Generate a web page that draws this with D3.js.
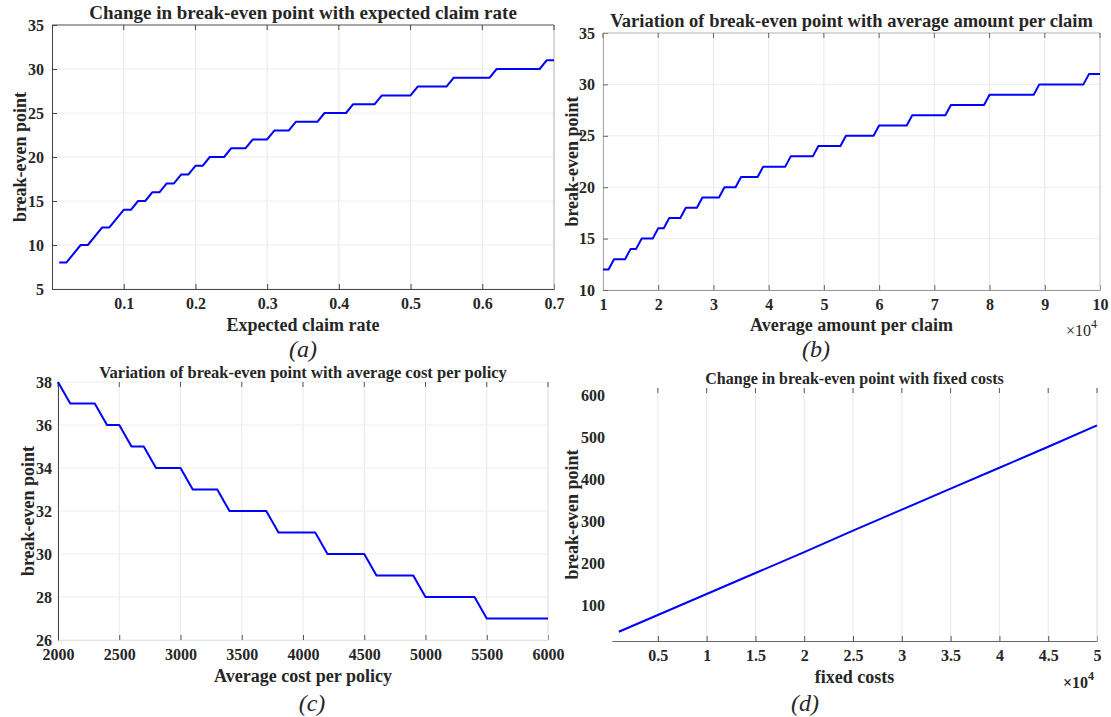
<!DOCTYPE html>
<html>
<head>
<meta charset="utf-8">
<script src="https://cdn.jsdelivr.net/npm/d3@7"></script>
<style>
  body { margin: 0; background: #fff; }
  svg { display: block; }
  text { font-family: "Liberation Serif", "Times New Roman", serif; fill: #262626; }
</style>
</head>
<body>
<div id="chart"></div>
<script>
var width = 1111;
var height = 717;

// (a) expected claim rate vs break-even point (vertices of the step line)
var claimRate = [0.01, 0.02, 0.04, 0.05, 0.07, 0.08, 0.10, 0.11, 0.12, 0.13, 0.14, 0.15,
    0.16, 0.17, 0.18, 0.19, 0.20, 0.21, 0.22, 0.24, 0.25, 0.27, 0.28, 0.30, 0.31, 0.33,
    0.34, 0.37, 0.38, 0.41, 0.42, 0.45, 0.46, 0.50, 0.51, 0.55, 0.56, 0.61, 0.62, 0.68,
    0.69, 0.70];
var bepClaimRate = [8, 8, 10, 10, 12, 12, 14, 14, 15, 15, 16, 16,
    17, 17, 18, 18, 19, 19, 20, 20, 21, 21, 22, 22, 23, 23,
    24, 24, 25, 25, 26, 26, 27, 27, 28, 28, 29, 29, 30, 30,
    31, 31];
var claimRateTicks = [0.1, 0.2, 0.3, 0.4, 0.5, 0.6, 0.7];
var bepTicksA = [5, 10, 15, 20, 25, 30, 35];

// (b) average amount per claim
var amountPerClaim = [10000, 11000, 12000, 14000, 15000, 16000, 17000, 19000, 20000, 21000,
    22000, 24000, 25000, 27000, 28000, 31000, 32000, 34000, 35000, 38000, 39000, 43000,
    44000, 48000, 49000, 53000, 54000, 59000, 60000, 65000, 66000, 72000, 73000, 79000,
    80000, 88000, 89000, 97000, 98000, 100000];
var bepAmount = [12, 12, 13, 13, 14, 14, 15, 15, 16, 16,
    17, 17, 18, 18, 19, 19, 20, 20, 21, 21, 22, 22,
    23, 23, 24, 24, 25, 25, 26, 26, 27, 27, 28, 28,
    29, 29, 30, 30, 31, 31];
var amountTicks = [10000, 20000, 30000, 40000, 50000, 60000, 70000, 80000, 90000, 100000];
var bepTicksB = [10, 15, 20, 25, 30, 35];

// (c) average cost per policy
var costPerPolicy = [2000, 2100, 2300, 2400, 2500, 2600, 2700, 2800, 3000, 3100, 3300,
    3400, 3700, 3800, 4100, 4200, 4500, 4600, 4900, 5000, 5400, 5500, 6000];
var bepCost = [38, 37, 37, 36, 36, 35, 35, 34, 34, 33, 33,
    32, 32, 31, 31, 30, 30, 29, 29, 28, 28, 27, 27];
var costTicks = [2000, 2500, 3000, 3500, 4000, 4500, 5000, 5500, 6000];
var bepTicksC = [26, 28, 30, 32, 34, 36, 38];

// (d) fixed costs
var fixedCosts = [1000, 5000, 10000, 15000, 20000, 25000, 30000, 35000, 40000, 45000, 50000];
var bepFixed = [36, 76, 126, 176, 226, 277, 327, 377, 427, 477, 528];
var fixedTicks = [5000, 10000, 15000, 20000, 25000, 30000, 35000, 40000, 45000, 50000];
var bepTicksD = [100, 200, 300, 400, 500, 600];

var svg = d3.select("#chart").append("svg")
    .attr("width", width)
    .attr("height", height);

function drawPanel(cfg) {
    var g = svg.append("g");

    var xScale = d3.scaleLinear().domain(cfg.xDomain).range([cfg.left, cfg.right]);
    var yScale = d3.scaleLinear().domain(cfg.yDomain).range([cfg.bottom, cfg.top]);

    // grid
    g.append("g").selectAll("line").data(cfg.xTicks).enter().append("line")
        .attr("x1", function (d) { return xScale(d); })
        .attr("x2", function (d) { return xScale(d); })
        .attr("y1", cfg.top).attr("y2", cfg.bottom)
        .attr("stroke", "#e8e8e8").attr("stroke-width", 1);
    if (cfg.yGrid) {
        g.append("g").selectAll("line").data(cfg.yTicks).enter().append("line")
            .attr("x1", cfg.left).attr("x2", cfg.right)
            .attr("y1", function (d) { return yScale(d); })
            .attr("y2", function (d) { return yScale(d); })
            .attr("stroke", "#eeeeee").attr("stroke-width", 1);
    }

    // axes (inward ticks, matlab style)
    var xAxis = d3.axisBottom(xScale)
        .tickValues(cfg.xTicks)
        .tickSizeInner(-5).tickSizeOuter(0)
        .tickPadding(9)
        .tickFormat(cfg.xFormat);
    var gx = g.append("g")
        .attr("transform", "translate(0," + cfg.bottom + ")")
        .call(xAxis);
    gx.select(".domain").attr("stroke", cfg.xAxisColor);
    gx.selectAll(".tick line").attr("stroke", cfg.tickColor);
    gx.selectAll("text")
        .style("font-size", "16px").style("font-weight", "bold")
        .attr("fill", "#262626");

    var yAxis = d3.axisLeft(yScale)
        .tickValues(cfg.yTicks)
        .tickSizeInner(cfg.yTickSize).tickSizeOuter(0)
        .tickPadding(cfg.yPad);
    var gy = g.append("g")
        .attr("transform", "translate(" + cfg.left + ",0)")
        .call(yAxis);
    gy.select(".domain").attr("stroke", cfg.yAxisColor);
    gy.selectAll(".tick line").attr("stroke", cfg.tickColor);
    gy.selectAll("text")
        .style("font-size", "16px").style("font-weight", "bold")
        .attr("fill", "#262626");

    // top / right box edges
    g.append("line")
        .attr("x1", cfg.left).attr("x2", cfg.right)
        .attr("y1", cfg.top).attr("y2", cfg.top)
        .attr("stroke", cfg.topColor);
    g.append("line")
        .attr("x1", cfg.right).attr("x2", cfg.right)
        .attr("y1", cfg.top).attr("y2", cfg.bottom)
        .attr("stroke", cfg.rightColor);
    // top ticks
    g.append("g").selectAll("line").data(cfg.xTicks).enter().append("line")
        .attr("x1", function (d) { return xScale(d); })
        .attr("x2", function (d) { return xScale(d); })
        .attr("y1", cfg.top).attr("y2", cfg.top + 5)
        .attr("stroke", cfg.tickColor);

    // data line
    var points = cfg.x.map(function (d, i) { return [d, cfg.y[i]]; });
    var line = d3.line()
        .x(function (d) { return xScale(d[0]); })
        .y(function (d) { return yScale(d[1]); });
    g.append("path")
        .datum(points)
        .attr("d", line)
        .attr("fill", "none")
        .attr("stroke", "#0000ff")
        .attr("stroke-width", 2)
        .attr("stroke-linejoin", "round");

    // titles and labels
    g.append("text")
        .attr("x", (cfg.left + cfg.right) / 2).attr("y", cfg.titleY)
        .attr("text-anchor", "middle")
        .style("font-size", cfg.titleSize + "px").style("font-weight", "bold")
        .text(cfg.title);
    g.append("text")
        .attr("x", (cfg.left + cfg.right) / 2).attr("y", cfg.xLabelY)
        .attr("text-anchor", "middle")
        .style("font-size", "18px").style("font-weight", "bold")
        .text(cfg.xLabel);
    g.append("text")
        .attr("transform", "translate(" + cfg.yLabelX + "," + (cfg.top + cfg.bottom) / 2 + ") rotate(-90)")
        .attr("text-anchor", "middle")
        .attr("dy", "0.35em")
        .style("font-size", "18px").style("font-weight", "bold")
        .text("break-even point");
    g.append("text")
        .attr("x", cfg.captionX).attr("y", cfg.captionY)
        .attr("text-anchor", "middle")
        .style("font-size", "24px").style("font-style", "italic")
        .text(cfg.caption);

    if (cfg.exponent) {
        var ex = g.append("text")
            .attr("x", cfg.right - 3).attr("y", cfg.exponentY)
            .attr("text-anchor", "end")
            .style("font-size", "16px").style("font-weight", cfg.exponentWeight);
        ex.append("tspan").text("\u00d710");
        ex.append("tspan").attr("dy", -8).style("font-size", "12px").text("4");
    }
}

var fmtE4 = function (d) { return d3.format("~g")(d / 10000); };

drawPanel({
    x: claimRate, y: bepClaimRate, xTicks: claimRateTicks, yTicks: bepTicksA,
    xDomain: [0, 0.7], yDomain: [5, 35],
    left: 52, right: 554, top: 25, bottom: 289,
    xFormat: d3.format(".1f"),
    yTickSize: -5, yPad: 8, yGrid: true,
    xAxisColor: "#444", yAxisColor: "#444", topColor: "#555", rightColor: "#bbb", tickColor: "#444",
    title: "Change in break-even point with expected claim rate", titleY: 19, titleSize: 19,
    xLabel: "Expected claim rate", xLabelY: 331, yLabelX: 20,
    caption: "(a)", captionX: 303, captionY: 357
});

drawPanel({
    x: amountPerClaim, y: bepAmount, xTicks: amountTicks, yTicks: bepTicksB,
    xDomain: [10000, 100000], yDomain: [10, 35],
    left: 603, right: 1100, top: 33, bottom: 290,
    xFormat: fmtE4,
    yTickSize: -5, yPad: 8, yGrid: true,
    xAxisColor: "#999", yAxisColor: "#aaa", topColor: "#bbb", rightColor: "#ccc", tickColor: "#666",
    title: "Variation of break-even point with average amount per claim", titleY: 27, titleSize: 18.5,
    xLabel: "Average amount per claim", xLabelY: 331, yLabelX: 572,
    caption: "(b)", captionX: 816, captionY: 357,
    exponent: true, exponentY: 336, exponentWeight: "normal"
});

drawPanel({
    x: costPerPolicy, y: bepCost, xTicks: costTicks, yTicks: bepTicksC,
    xDomain: [2000, 6000], yDomain: [26, 38],
    left: 58, right: 548, top: 382, bottom: 640,
    xFormat: d3.format("d"),
    yTickSize: 0, yPad: 6, yGrid: true,
    xAxisColor: "#e2e2e2", yAxisColor: "#444", topColor: "none", rightColor: "#e6e6e6", tickColor: "#555",
    title: "Variation of break-even point with average cost per policy", titleY: 378, titleSize: 16.5,
    xLabel: "Average cost per policy", xLabelY: 682, yLabelX: 28,
    caption: "(c)", captionX: 312, captionY: 711
});

drawPanel({
    x: fixedCosts, y: bepFixed, xTicks: fixedTicks, yTicks: bepTicksD,
    xDomain: [300, 50000], yDomain: [14, 617],
    left: 612, right: 1097, top: 388, bottom: 641,
    xFormat: fmtE4,
    yTickSize: 0, yPad: 7, yGrid: false,
    xAxisColor: "#666", yAxisColor: "none", topColor: "none", rightColor: "#e6e6e6", tickColor: "#555",
    title: "Change in break-even point with fixed costs", titleY: 384, titleSize: 16,
    xLabel: "fixed costs", xLabelY: 683, yLabelX: 572,
    caption: "(d)", captionX: 805, captionY: 711,
    exponent: true, exponentY: 688, exponentWeight: "bold"
});
</script>
</body>
</html>
